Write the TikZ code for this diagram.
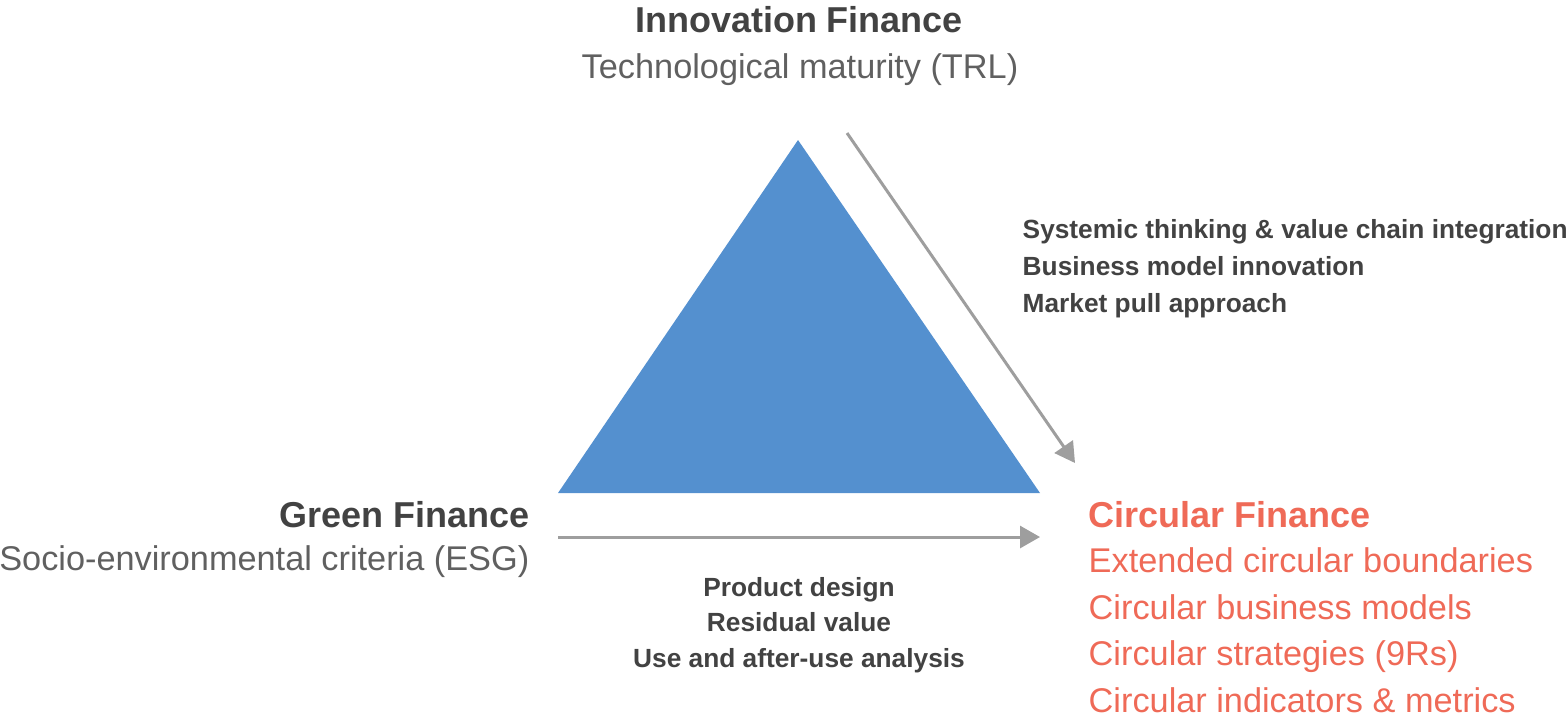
\documentclass[tikz,border=0pt]{standalone}
\usepackage{fontspec}
\setmainfont{Liberation Sans}
\usetikzlibrary{positioning,arrows.meta}
\definecolor{ink}{RGB}{66,66,66}
\definecolor{inklight}{RGB}{96,96,96}
\definecolor{coral}{RGB}{239,106,87}
\definecolor{steel}{RGB}{84,144,207}
\definecolor{rail}{RGB}{158,158,158}

\begin{document}
\begin{tikzpicture}[
  head/.style={font=\fontsize{10.24pt}{12pt}\selectfont\bfseries, text=ink, inner sep=0pt},
  sub/.style={font=\fontsize{9.76pt}{13.2pt}\selectfont, text=inklight, inner sep=0pt},
  cue/.style={font=\fontsize{7.48pt}{10.5pt}\selectfont\bfseries, text=ink, inner sep=0pt},
  ar/.style={-{Triangle[length=2mm,width=2.2mm]}, draw=rail, line width=0.85pt},
]
\useasboundingbox (0,0) rectangle (15.68,-7.18);

% the three corners of the triangle
\coordinate (top)   at (7.98,-1.40);
\coordinate (left)  at (5.58,-4.93);
\coordinate (right) at (10.40,-4.93);
\fill[steel] (top) -- (right) -- (left) -- cycle;

% innovation finance
\node[head, anchor=base] (inno) at (7.99,-0.32) {Innovation Finance};
\node[sub, anchor=base] (trl) at (8.00,-0.78) {Technological maturity (TRL)};

% green finance
\node[head, anchor=base east] (green) at (5.30,-5.27) {Green Finance};
\node[sub, anchor=base east] (esg) at (5.30,-5.70) {Socio-environmental criteria (ESG)};

% circular finance (base of a multi-line node = its last line)
\node[head, text=coral, anchor=base west] (circ) at (10.88,-5.27) {Circular Finance};
\node[sub, text=coral, anchor=base west, align=left] (circlist) at (10.88,-7.12)
  {Extended circular boundaries\\Circular business models\\Circular strategies (9Rs)\\Circular indicators \& metrics};

% what each path brings
\node[cue, anchor=base west, align=left] (sys) at (10.22,-3.12)
  {Systemic thinking \& value chain integration\\Business model innovation\\Market pull approach};
\node[cue, font=\fontsize{7.48pt}{10pt}\selectfont\bfseries, anchor=base, align=center] (prod) at (7.99,-6.67)
  {Product design\\Residual value\\Use and after-use analysis};

% arrows towards circular finance
\coordinate (a1) at (8.47,-1.33);
\coordinate (a2) at (10.75,-4.63);
\coordinate (b1) at (5.58,-5.37);
\coordinate (b2) at (10.40,-5.37);
\draw[ar] (a1) -- (a2);
\draw[ar] (b1) -- (b2);
\end{tikzpicture}
\end{document}
